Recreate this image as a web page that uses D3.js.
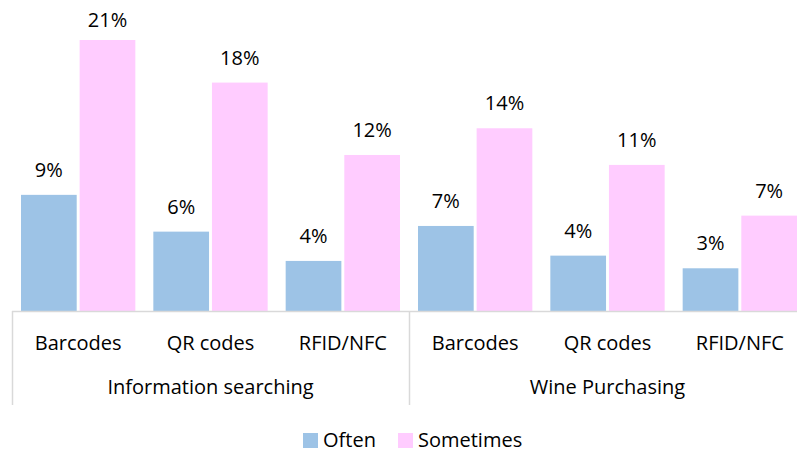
<html>
<head>
<script src="https://d3js.org/d3.v7.min.js"></script>
<style>
  body { margin: 0; background: #fff; }
  text { font-family: "Open Sans", sans-serif; fill: #000; }
</style>
</head>
<body>
<div id="chart"></div>
<script>
var groups = ["Information searching", "Wine Purchasing"];
var techs = ["Barcodes", "QR codes", "RFID/NFC"];
var seriesNames = ["Often", "Sometimes"];
var often = [9.0, 6.15, 3.88, 6.59, 4.29, 3.31];
var sometimes = [21.0, 17.7, 12.09, 14.16, 11.32, 7.39];
var colors = ["#9DC3E6", "#FFCCFF"];

var width = 797, height = 453;
var baseY = 311;

var rows = [];
groups.forEach(function(g, gi) {
  techs.forEach(function(t, ti) {
    var i = gi * techs.length + ti;
    rows.push({key: g + "|" + t, group: g, tech: t, values: [often[i], sometimes[i]]});
  });
});

var svg = d3.select("#chart").append("svg")
    .attr("width", width)
    .attr("height", height);

var x0 = d3.scaleBand()
    .domain(rows.map(function(d) { return d.key; }))
    .range([12, 806])
    .paddingInner(0).paddingOuter(0);

var x1 = d3.scaleBand()
    .domain(seriesNames)
    .range([9, x0.bandwidth() - 9])
    .paddingInner(0.05);

var y = d3.scaleLinear()
    .domain([0, 21])
    .range([baseY, 40]);

var cat = svg.selectAll("g.cat")
    .data(rows)
    .enter().append("g")
    .attr("class", "cat")
    .attr("transform", function(d) { return "translate(" + x0(d.key) + ",0)"; });

cat.selectAll("rect")
    .data(function(d) { return d.values.map(function(v, i) { return {s: seriesNames[i], v: v, i: i}; }); })
    .enter().append("rect")
    .attr("x", function(d) { return x1(d.s); })
    .attr("y", function(d) { return y(d.v); })
    .attr("width", x1.bandwidth())
    .attr("height", function(d) { return baseY - y(d.v); })
    .attr("fill", function(d) { return colors[d.i]; });

// data labels, kept inside the chart area at the top
cat.selectAll("text.lbl")
    .data(function(d) { return d.values.map(function(v, i) { return {s: seriesNames[i], v: v}; }); })
    .enter().append("text")
    .attr("class", "lbl")
    .attr("x", function(d) { return x1(d.s) + x1.bandwidth() / 2; })
    .attr("y", function(d) { return Math.max(y(d.v) - 18, 27); })
    .attr("text-anchor", "middle")
    .style("font-size", "20px")
    .text(function(d) { return Math.round(d.v) + "%"; });

// category axis
svg.append("line")
    .attr("x1", 12).attr("x2", width)
    .attr("y1", baseY + 0.5).attr("y2", baseY + 0.5)
    .attr("stroke", "#d9d9d9").attr("stroke-width", 1.5);

cat.append("text")
    .attr("x", x0.bandwidth() / 2)
    .attr("y", 350)
    .attr("text-anchor", "middle")
    .style("font-size", "20px")
    .text(function(d) { return d.tech; });

var gStart = groups.map(function(g) { return x0(g + "|" + techs[0]); });
groups.forEach(function(g, gi) {
  var xs = gStart[gi];
  svg.append("line")
      .attr("x1", xs + 0.5).attr("x2", xs + 0.5)
      .attr("y1", baseY).attr("y2", 405)
      .attr("stroke", "#d9d9d9").attr("stroke-width", 1.5);
  svg.append("text")
      .attr("x", xs + x0.bandwidth() * techs.length / 2)
      .attr("y", 394)
      .attr("text-anchor", "middle")
      .style("font-size", "20px")
      .text(g);
});

// legend
var legend = svg.append("g");
var legX = [303, 398];
seriesNames.forEach(function(s, i) {
  legend.append("rect")
      .attr("x", legX[i]).attr("y", 433)
      .attr("width", 15).attr("height", 15)
      .attr("fill", colors[i]);
  legend.append("text")
      .attr("x", legX[i] + 20).attr("y", 447)
      .style("font-size", "20px")
      .text(s);
});
</script>
</body>
</html>
